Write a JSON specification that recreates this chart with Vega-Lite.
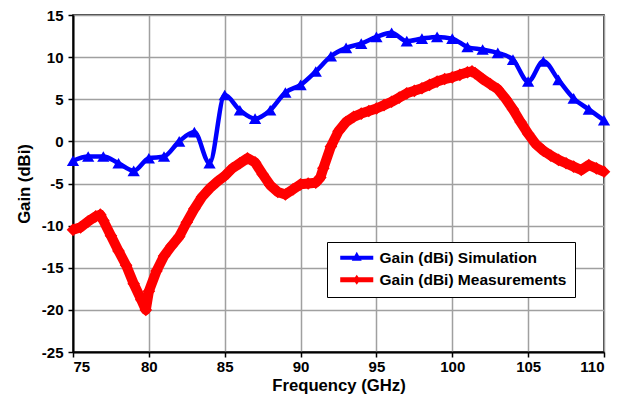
{
  "$schema": "https://vega.github.io/schema/vega-lite/v6.json",
  "width": 531,
  "height": 337,
  "autosize": "none",
  "padding": {"left": 73, "top": 15, "right": 22, "bottom": 47},
  "background": "white",
  "config": {
    "font": "Liberation Sans",
    "view": {"stroke": "black", "strokeWidth": 1.5},
    "axis": {
      "labelFont": "Liberation Sans", "labelFontWeight": "bold", "labelFontSize": 15, "labelColor": "black",
      "titleFont": "Liberation Sans", "titleFontWeight": "bold", "titleFontSize": 16.7, "titleColor": "black",
      "domainColor": "black", "domainWidth": 2, "tickColor": "black", "tickSize": 5, "tickWidth": 1.5,
      "gridColor": "#a0a0a0", "gridWidth": 1.5, "gridOpacity": 1
    }
  },
  "data": {"values": [
    {"s": "Gain (dBi) Simulation", "f": 75, "g": -2.3}, {"s": "Gain (dBi) Simulation", "f": 76, "g": -1.8},
    {"s": "Gain (dBi) Simulation", "f": 77, "g": -1.8}, {"s": "Gain (dBi) Simulation", "f": 78, "g": -2.6},
    {"s": "Gain (dBi) Simulation", "f": 79, "g": -3.5}, {"s": "Gain (dBi) Simulation", "f": 80, "g": -2.0},
    {"s": "Gain (dBi) Simulation", "f": 81, "g": -1.8}, {"s": "Gain (dBi) Simulation", "f": 82, "g": 0.0},
    {"s": "Gain (dBi) Simulation", "f": 83, "g": 1.1}, {"s": "Gain (dBi) Simulation", "f": 84, "g": -2.6},
    {"s": "Gain (dBi) Simulation", "f": 85, "g": 5.5}, {"s": "Gain (dBi) Simulation", "f": 86, "g": 3.7},
    {"s": "Gain (dBi) Simulation", "f": 87, "g": 2.7}, {"s": "Gain (dBi) Simulation", "f": 88, "g": 3.7},
    {"s": "Gain (dBi) Simulation", "f": 89, "g": 5.8}, {"s": "Gain (dBi) Simulation", "f": 90, "g": 6.7},
    {"s": "Gain (dBi) Simulation", "f": 91, "g": 8.3}, {"s": "Gain (dBi) Simulation", "f": 92, "g": 10.1},
    {"s": "Gain (dBi) Simulation", "f": 93, "g": 11.1}, {"s": "Gain (dBi) Simulation", "f": 94, "g": 11.6},
    {"s": "Gain (dBi) Simulation", "f": 95, "g": 12.4}, {"s": "Gain (dBi) Simulation", "f": 96, "g": 12.9},
    {"s": "Gain (dBi) Simulation", "f": 97, "g": 11.9}, {"s": "Gain (dBi) Simulation", "f": 98, "g": 12.2},
    {"s": "Gain (dBi) Simulation", "f": 99, "g": 12.4}, {"s": "Gain (dBi) Simulation", "f": 100, "g": 12.2},
    {"s": "Gain (dBi) Simulation", "f": 101, "g": 11.2}, {"s": "Gain (dBi) Simulation", "f": 102, "g": 10.9},
    {"s": "Gain (dBi) Simulation", "f": 103, "g": 10.5}, {"s": "Gain (dBi) Simulation", "f": 104, "g": 9.7},
    {"s": "Gain (dBi) Simulation", "f": 105, "g": 7.1}, {"s": "Gain (dBi) Simulation", "f": 106, "g": 9.5},
    {"s": "Gain (dBi) Simulation", "f": 107, "g": 7.3}, {"s": "Gain (dBi) Simulation", "f": 108, "g": 5.1},
    {"s": "Gain (dBi) Simulation", "f": 109, "g": 3.8}, {"s": "Gain (dBi) Simulation", "f": 110, "g": 2.5},
    {"s": "Gain (dBi) Measurements", "f": 75, "g": -10.5}, {"s": "Gain (dBi) Measurements", "f": 75.5, "g": -10.2},
    {"s": "Gain (dBi) Measurements", "f": 76, "g": -9.5}, {"s": "Gain (dBi) Measurements", "f": 76.5, "g": -8.9},
    {"s": "Gain (dBi) Measurements", "f": 76.8, "g": -8.7}, {"s": "Gain (dBi) Measurements", "f": 77, "g": -9.4},
    {"s": "Gain (dBi) Measurements", "f": 77.5, "g": -11.2}, {"s": "Gain (dBi) Measurements", "f": 78, "g": -13.0},
    {"s": "Gain (dBi) Measurements", "f": 78.5, "g": -14.7}, {"s": "Gain (dBi) Measurements", "f": 79, "g": -16.9},
    {"s": "Gain (dBi) Measurements", "f": 79.5, "g": -18.8}, {"s": "Gain (dBi) Measurements", "f": 79.8, "g": -20.0},
    {"s": "Gain (dBi) Measurements", "f": 80, "g": -17.8}, {"s": "Gain (dBi) Measurements", "f": 80.5, "g": -15.4},
    {"s": "Gain (dBi) Measurements", "f": 81, "g": -13.6}, {"s": "Gain (dBi) Measurements", "f": 81.5, "g": -12.4},
    {"s": "Gain (dBi) Measurements", "f": 82, "g": -11.3}, {"s": "Gain (dBi) Measurements", "f": 82.5, "g": -9.6},
    {"s": "Gain (dBi) Measurements", "f": 83, "g": -8.0}, {"s": "Gain (dBi) Measurements", "f": 83.5, "g": -6.6},
    {"s": "Gain (dBi) Measurements", "f": 84, "g": -5.6}, {"s": "Gain (dBi) Measurements", "f": 84.5, "g": -4.8},
    {"s": "Gain (dBi) Measurements", "f": 85, "g": -4.1}, {"s": "Gain (dBi) Measurements", "f": 85.5, "g": -3.2},
    {"s": "Gain (dBi) Measurements", "f": 86, "g": -2.6}, {"s": "Gain (dBi) Measurements", "f": 86.5, "g": -2.0},
    {"s": "Gain (dBi) Measurements", "f": 87, "g": -2.5}, {"s": "Gain (dBi) Measurements", "f": 87.5, "g": -3.9},
    {"s": "Gain (dBi) Measurements", "f": 88, "g": -5.2}, {"s": "Gain (dBi) Measurements", "f": 88.5, "g": -6.0},
    {"s": "Gain (dBi) Measurements", "f": 89, "g": -6.3}, {"s": "Gain (dBi) Measurements", "f": 89.5, "g": -5.7},
    {"s": "Gain (dBi) Measurements", "f": 90, "g": -5.1}, {"s": "Gain (dBi) Measurements", "f": 90.5, "g": -5.0},
    {"s": "Gain (dBi) Measurements", "f": 91, "g": -4.9}, {"s": "Gain (dBi) Measurements", "f": 91.3, "g": -4.3},
    {"s": "Gain (dBi) Measurements", "f": 91.5, "g": -3.2}, {"s": "Gain (dBi) Measurements", "f": 92, "g": -0.6},
    {"s": "Gain (dBi) Measurements", "f": 92.5, "g": 1.2}, {"s": "Gain (dBi) Measurements", "f": 93, "g": 2.3},
    {"s": "Gain (dBi) Measurements", "f": 93.5, "g": 2.9}, {"s": "Gain (dBi) Measurements", "f": 94, "g": 3.3},
    {"s": "Gain (dBi) Measurements", "f": 94.5, "g": 3.6}, {"s": "Gain (dBi) Measurements", "f": 95, "g": 3.9},
    {"s": "Gain (dBi) Measurements", "f": 95.5, "g": 4.3}, {"s": "Gain (dBi) Measurements", "f": 96, "g": 4.7},
    {"s": "Gain (dBi) Measurements", "f": 96.5, "g": 5.2}, {"s": "Gain (dBi) Measurements", "f": 97, "g": 5.7},
    {"s": "Gain (dBi) Measurements", "f": 97.5, "g": 6.0}, {"s": "Gain (dBi) Measurements", "f": 98, "g": 6.3},
    {"s": "Gain (dBi) Measurements", "f": 98.5, "g": 6.7}, {"s": "Gain (dBi) Measurements", "f": 99, "g": 7.1},
    {"s": "Gain (dBi) Measurements", "f": 99.5, "g": 7.4}, {"s": "Gain (dBi) Measurements", "f": 100, "g": 7.6},
    {"s": "Gain (dBi) Measurements", "f": 100.5, "g": 7.9}, {"s": "Gain (dBi) Measurements", "f": 101, "g": 8.2},
    {"s": "Gain (dBi) Measurements", "f": 101.3, "g": 8.3}, {"s": "Gain (dBi) Measurements", "f": 101.5, "g": 8.1},
    {"s": "Gain (dBi) Measurements", "f": 102, "g": 7.4}, {"s": "Gain (dBi) Measurements", "f": 102.5, "g": 6.8},
    {"s": "Gain (dBi) Measurements", "f": 103, "g": 6.2}, {"s": "Gain (dBi) Measurements", "f": 103.5, "g": 5.1},
    {"s": "Gain (dBi) Measurements", "f": 104, "g": 3.8}, {"s": "Gain (dBi) Measurements", "f": 104.5, "g": 2.3},
    {"s": "Gain (dBi) Measurements", "f": 105, "g": 0.9}, {"s": "Gain (dBi) Measurements", "f": 105.5, "g": -0.3},
    {"s": "Gain (dBi) Measurements", "f": 106, "g": -1.1}, {"s": "Gain (dBi) Measurements", "f": 106.5, "g": -1.7},
    {"s": "Gain (dBi) Measurements", "f": 107, "g": -2.2}, {"s": "Gain (dBi) Measurements", "f": 107.5, "g": -2.6},
    {"s": "Gain (dBi) Measurements", "f": 108, "g": -3.0}, {"s": "Gain (dBi) Measurements", "f": 108.5, "g": -3.4},
    {"s": "Gain (dBi) Measurements", "f": 109, "g": -2.8}, {"s": "Gain (dBi) Measurements", "f": 109.5, "g": -3.2},
    {"s": "Gain (dBi) Measurements", "f": 110, "g": -3.6}
  ]},
  "encoding": {
    "x": {
      "field": "f", "type": "quantitative",
      "scale": {"domain": [75, 110], "nice": false, "zero": false},
      "axis": {"values": [75, 80, 85, 90, 95, 100, 105, 110], "title": "Frequency (GHz)", "labelPadding": 2, "titlePadding": 3}
    },
    "y": {
      "field": "g", "type": "quantitative",
      "scale": {"domain": [-25, 15], "nice": false, "zero": false},
      "axis": {"values": [-25, -20, -15, -10, -5, 0, 5, 10, 15], "title": "Gain (dBi)", "labelPadding": 5, "titlePadding": 8, "labelExpr": "'' + datum.value"}
    },
    "color": {
      "field": "s", "type": "nominal",
      "scale": {"domain": ["Gain (dBi) Simulation", "Gain (dBi) Measurements"], "range": ["#0000ff", "#ff0000"]},
      "legend": {
        "title": null, "orient": "none", "legendX": 254, "legendY": 227,
        "padding": 8, "strokeColor": "black", "fillColor": "white",
        "labelFont": "Liberation Sans", "labelFontWeight": "bold", "labelFontSize": 15.5, "labelColor": "black",
        "symbolSize": 196, "symbolOffset": 14, "labelOffset": 15, "rowPadding": 5, "labelLimit": 300,
        "encode": {
          "symbols": {
            "update": {
              "opacity": {"value": 1},
              "fillOpacity": {"value": 1},
              "strokeWidth": {"value": 0},
              "fill": {"signal": "datum.value === 'Gain (dBi) Simulation' ? '#0000ff' : '#ff0000'"},
              "shape": {"signal": "datum.value === 'Gain (dBi) Simulation' ? 'M-2.36,-0.28L2.36,-0.28L2.36,0.28L-2.36,0.28Z M0,-0.86L0.71,0.43L-0.71,0.43Z' : 'M-2.36,-0.34L2.36,-0.34L2.36,0.34L-2.36,0.34Z M0,-0.7L0.5,0L0,0.7L-0.5,0Z'"}
            }
          }
        }
      }
    }
  },
  "layer": [
    {
      "transform": [{"filter": "datum.s === 'Gain (dBi) Measurements'"}],
      "mark": {"type": "line", "strokeWidth": 10, "strokeJoin": "round"}
    },
    {
      "transform": [{"filter": "datum.s === 'Gain (dBi) Measurements'"}],
      "mark": {"type": "point", "shape": "diamond", "filled": true, "size": 160, "opacity": 1}
    },
    {
      "transform": [{"filter": "datum.s === 'Gain (dBi) Simulation'"}],
      "mark": {"type": "line", "strokeWidth": 4.5, "interpolate": "monotone"}
    },
    {
      "transform": [{"filter": "datum.s === 'Gain (dBi) Simulation'"}],
      "mark": {"type": "point", "shape": "triangle-up", "filled": true, "size": 150, "opacity": 1}
    }
  ]
}
